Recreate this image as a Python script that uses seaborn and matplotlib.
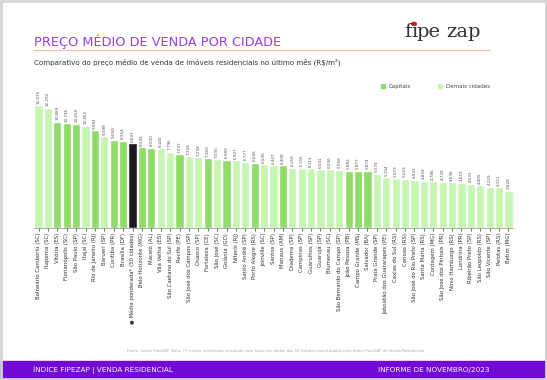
import numpy as np
import pandas as pd
import matplotlib.pyplot as plt
import seaborn as sns
from matplotlib.patches import Rectangle, Circle
from matplotlib.lines import Line2D

# Data
cidades = [
    'Balneário Camboriú (SC)', 'Itapema (SC)', 'Vitória (ES)', 'Florianópolis (SC)',
    'São Paulo (SP)', 'Itajaí (SC)', 'Rio de Janeiro (RJ)', 'Barueri (SP)',
    'Curitiba (PR)', 'Brasília (DF)', '● Média ponderada* (50 cidades)',
    'Belo Horizonte (MG)', 'Maceió (AL)', 'Vila Velha (ES)', 'São Caetano do Sul (SP)',
    'Recife (PE)', 'São José dos Campos (SP)', 'Osasco (SP)', 'Fortaleza (CE)',
    'São José (SC)', 'Goiânia (GO)', 'Niterói (RJ)', 'Santo André (SP)',
    'Porto Alegre (RS)', 'Joinville (SC)', 'Santos (SP)', 'Manaus (AM)',
    'Diadema (SP)', 'Campinas (SP)', 'Guarulhos (SP)', 'Guarujá (SP)',
    'Blumenau (SC)', 'São Bernardo do Campo (SP)', 'João Pessoa (PB)',
    'Campo Grande (MS)', 'Salvador (BA)', 'Praia Grande (SP)',
    'Jaboatão dos Guararapes (PE)', 'Caxias do Sul (RS)', 'Canoas (RS)',
    'São José do Rio Preto (SP)', 'Santa Maria (RS)', 'Contagem (MG)',
    'São José dos Pinhais (PR)', 'Novo Hamburgo (RS)', 'Londrina (PR)',
    'Ribeirão Preto (SP)', 'São Leopoldo (RS)', 'São Vicente (SP)',
    'Pelotas (RS)', 'Betim (MG)',
]
precos = [
    12575, 12292, 10889, 10746, 10659, 10462, 9994, 9398, 9050, 8954, 8697,
    8245, 8200, 8140, 7796, 7537, 7358, 7258, 7160, 7030, 6989, 6927, 6777,
    6666, 6506, 6447, 6408, 6159, 6156, 6113, 6041, 6036, 5958, 5882, 5877,
    5874, 5574, 5194, 5073, 5033, 4933, 4839, 4786, 4728, 4698, 4653, 4531,
    4405, 4229, 4151, 3828,
]
capitais = ['Vitória (ES)', 'Florianópolis (SC)', 'São Paulo (SP)', 'Rio de Janeiro (RJ)',
            'Curitiba (PR)', 'Brasília (DF)', 'Belo Horizonte (MG)', 'Maceió (AL)',
            'Recife (PE)', 'Fortaleza (CE)', 'Goiânia (GO)', 'Porto Alegre (RS)',
            'Manaus (AM)', 'João Pessoa (PB)', 'Campo Grande (MS)', 'Salvador (BA)']

def grupo(c):
    if c.startswith('●'):
        return 'Média'
    return 'Capitais' if c in capitais else 'Demais cidades'

df = pd.DataFrame({'cidade': cidades, 'preco': precos})
df['grupo'] = df['cidade'].apply(grupo)

cores = {'Capitais': '#8fdc68', 'Demais cidades': '#c6f6b2', 'Média': '#1c1c1c'}
roxo = '#9b3fe0'

sns.set_theme(style='white')
plt.rcParams['font.family'] = ['DejaVu Sans']

fig = plt.figure(figsize=(5.47, 3.8), dpi=100)
ax = fig.add_axes([0.0618, 0.40, 0.8764, 0.347])

sns.barplot(data=df, x='cidade', y='preco', hue='grupo', palette=cores,
            dodge=False, width=0.88, legend=False, ax=ax, saturation=1)

for i, v in enumerate(precos):
    ax.text(i, v + 150, f'{v:,}'.replace(',', '.'), rotation=90, ha='center',
            va='bottom', fontsize=3.0, color='#555555')

ax.set_xlim(-0.5, len(cidades) - 0.5)
ax.set_ylim(0, 13500)
ax.set_xlabel('')
ax.set_ylabel('')
ax.set_yticks([])
ax.tick_params(axis='x', labelrotation=90, labelsize=3.9, colors='#333333',
               length=2, width=0.5, pad=1.5, bottom=True)
for s in ['top', 'right', 'left']:
    ax.spines[s].set_visible(False)
ax.spines['bottom'].set_color('#888888')
ax.spines['bottom'].set_linewidth(0.5)

# legend
handles = [Line2D([0], [0], marker='s', linestyle='', markersize=2.5,
                  color=cores[k]) for k in ['Capitais', 'Demais cidades']]
fig.legend(handles, ['Capitais', 'Demais cidades'], loc='center left',
           bbox_to_anchor=(0.68, 0.773), ncol=2, frameon=False, fontsize=4,
           handletextpad=0.1, columnspacing=4.2, labelcolor='#444444')

# header
fig.text(0.062, 0.889, 'PREÇO MÉDIO DE VENDA POR CIDADE', fontsize=9.3,
         color=roxo, va='center', ha='left')
fig.add_artist(Line2D([0.06, 0.896], [0.868, 0.868], color='#f2c69a', lw=0.8))
fig.text(0.062, 0.837, 'Comparativo do preço médio de venda de imóveis residenciais no último mês (R$/m²)',
         fontsize=5.1, color='#333333', va='center', ha='left')

# logo: pieces placed by measured widths so the red dot sits on the i
fig.canvas.draw()
rend = fig.canvas.get_renderer()
logo_kw = dict(fontsize=14, family='DejaVu Serif', color='#333333', va='baseline', ha='left')
x0, yb = 0.740, 0.903
t_f = fig.text(x0, yb, 'f', **logo_kw)
w_f = t_f.get_window_extent(rend).width / fig.bbox.width
t_i = fig.text(x0 + w_f - 0.002, yb, 'ı', **logo_kw)
bi = t_i.get_window_extent(rend)
w_i = bi.width / fig.bbox.width
xi = (bi.x0 + bi.width / 2) / fig.bbox.width
fig.add_artist(Circle((xi, yb + 0.034), 0.0042, transform=fig.transFigure,
                      color='#d02020'))
t_pe = fig.text(x0 + w_f + w_i - 0.003, yb, 'pe', **logo_kw)
w_pe = t_pe.get_window_extent(rend).width / fig.bbox.width
fig.text(x0 + w_f + w_i + w_pe + 0.008, yb, 'zap', **logo_kw)

# source note
fig.text(0.232, 0.077, 'Fonte: Índice FipeZAP. Nota: (*) média ponderada calculada com base nos dados '
         'das 50 cidades monitoradas pelo Índice FipeZAP de Venda Residencial.',
         fontsize=2.8, color='#aaaaaa', va='center', ha='left')

# footer band
fig.add_artist(Rectangle((0, 0.006), 1, 0.045, transform=fig.transFigure,
                         color='#7209d4', zorder=0))
fig.text(0.061, 0.027, 'ÍNDICE FIPEZAP | VENDA RESIDENCIAL', fontsize=5.2,
         color='white', va='center', ha='left')
fig.text(0.894, 0.027, 'INFORME DE NOVEMBRO/2023', fontsize=5.2,
         color='white', va='center', ha='right')

# frame
fig.add_artist(Rectangle((0.002, 0.003), 0.996, 0.994, transform=fig.transFigure,
                         fill=False, edgecolor='#d4d4d4', lw=2))

fig.savefig('out.png', dpi=100)
